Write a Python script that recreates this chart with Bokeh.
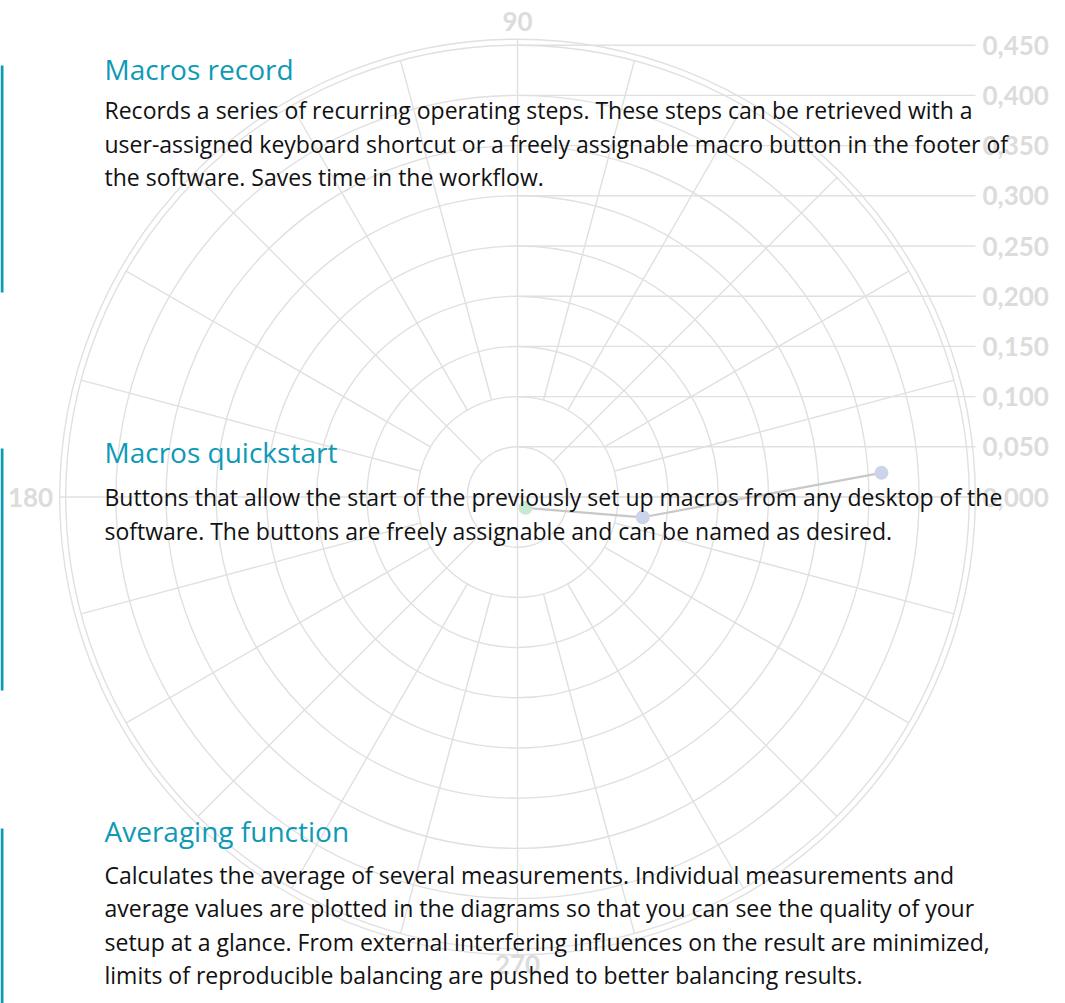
import numpy as np
from bokeh.plotting import figure
from bokeh.models import Range1d, ColumnDataSource
from bokeh.core.properties import value
from bokeh.embed import file_html
from bokeh.resources import INLINE

# ---------------- data ----------------
radial_ticks = [0.0, 0.05, 0.10, 0.15, 0.20, 0.25, 0.30, 0.35, 0.40, 0.45]
radial_labels = ["0,000", "0,050", "0,100", "0,150", "0,200", "0,250",
                 "0,300", "0,350", "0,400", "0,450"]
angle_ticks = [90, 180, 270]
angle_labels = ["90", "180", "270"]

point_r = [0.0134, 0.1264, 0.3633]
point_theta = [-53.5, -9.2, 3.8]
point_colors = ["#c9e8d4", "#ccd4ec", "#ccd4ec"]

titles = ["Macros record", "Macros quickstart", "Averaging function"]
bodies = [
    ["Records a series of recurring operating steps. These steps can be retrieved with a",
     "user-assigned keyboard shortcut or a freely assignable macro button in the footer of",
     "the software. Saves time in the workflow."],
    ["Buttons that allow the start of the previously set up macros from any desktop of the",
     "software. The buttons are freely assignable and can be named as desired."],
    ["Calculates the average of several measurements. Individual measurements and",
     "average values are plotted in the diagrams so that you can see the quality of your",
     "setup at a glance. From external interfering influences on the result are minimized,",
     "limits of reproducible balancing are pushed to better balancing results."],
]

# ---------------- layout (page pixels) ----------------
W, H = 1065, 1003
CX, CY = 517.0, 496.5
S = 1004.0  # px per radial unit
R_MAX = 0.456

def X(px):
    return (px - CX) / S

def Y(py):
    return (CY - py) / S

p = figure(width=W, height=H, output_backend="svg", toolbar_location=None,
           x_range=Range1d(X(0), X(W)), y_range=Range1d(Y(H), Y(0)),
           min_border=0, match_aspect=False)
p.styles = {"position": "absolute", "left": "0px", "top": "0px"}
p.axis.visible = False
p.grid.visible = False
p.outline_line_color = None
p.background_fill_color = "white"
p.border_fill_color = "white"

GRID = "#e0e0e0"
LBL = "#dcdcdc"

# concentric circles
rings = [t for t in radial_ticks if t > 0] + [R_MAX]
p.circle(x=[0] * len(rings), y=[0] * len(rings), radius=rings,
         fill_color=None, line_color=GRID, line_width=1.4)

# spokes
sx0, sy0, sx1, sy1 = [], [], [], []
for a in range(0, 360, 15):
    if a % 90 == 0:
        r0, r1 = 0.0, R_MAX
    elif a % 45 == 0:
        r0, r1 = 0.05, 0.45
    else:
        r0, r1 = 0.10, 0.45
    t = np.deg2rad(a)
    sx0.append(r0 * np.cos(t)); sy0.append(r0 * np.sin(t))
    sx1.append(r1 * np.cos(t)); sy1.append(r1 * np.sin(t))
p.segment(sx0, sy0, sx1, sy1, line_color=GRID, line_width=1.4)

# radial axis: horizontal lines to the labels on the right
n = len(radial_ticks)
p.segment([0] * n, radial_ticks, [X(975)] * n, radial_ticks,
          line_color=GRID, line_width=1.4)
p.text(x=[X(982)] * n, y=radial_ticks, text=radial_labels,
       text_font=value("Lato"), text_font_style="bold", text_font_size="26px",
       text_color=LBL, text_align="left", text_baseline="middle")

# angle labels
lab_r = [0.474, 0.474, 0.466]
ax = [r * np.cos(np.deg2rad(a)) for r, a in zip(lab_r, angle_ticks)]
ay = [r * np.sin(np.deg2rad(a)) for r, a in zip(lab_r, angle_ticks)]
ax[1] = X(30)
p.text(x=ax, y=ay, text=angle_labels,
       text_font=value("Lato"), text_font_style="bold", text_font_size="26px",
       text_color=LBL, text_align="center", text_baseline="middle")

# series
th = np.deg2rad(point_theta)
px_ = np.array(point_r) * np.cos(th)
py_ = np.array(point_r) * np.sin(th)
src = ColumnDataSource(dict(x=px_, y=py_, c=point_colors))
p.line("x", "y", source=src, line_color="#c8c8c8", line_width=2.2)
p.scatter("x", "y", source=src, size=14, fill_color="c", line_color=None)

# overlay text blocks
TEAL = "#0e9ab5"
title_y = [68, 451, 830]
body_y = [[109, 143, 176], [496, 530], [874, 907, 941, 974]]
bar_y = [(65, 292), (448, 690), (828, 1010)]
for t, ty, lines, lys, (b0, b1) in zip(titles, title_y, bodies, body_y, bar_y):
    p.text(x=[X(104)], y=[Y(ty)], text=[t], text_font=value("Open Sans"),
           text_font_size="28px", text_color=TEAL,
           text_align="left", text_baseline="middle")
    p.text(x=[X(104)] * len(lines), y=[Y(v) for v in lys], text=lines,
           text_font=value("Open Sans"), text_font_size="23px", text_color="#111111",
           text_align="left", text_baseline="middle")
    p.quad(left=[X(0)], right=[X(3)], top=[Y(b0)], bottom=[Y(b1)],
           fill_color=TEAL, line_color=None)

open("out.html", "w").write(file_html(p, INLINE))
